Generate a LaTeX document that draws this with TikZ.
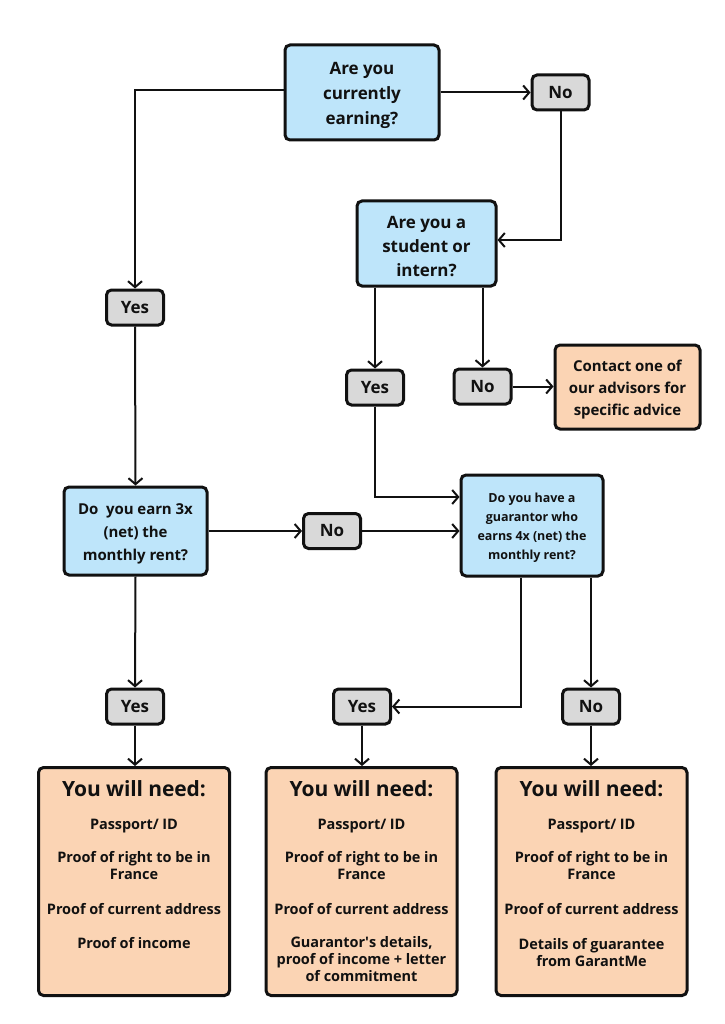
\documentclass[tikz,border=0pt]{standalone}
\usepackage{fontspec}
\setmainfont[LetterSpace=-0.5]{Open Sans}
\usetikzlibrary{arrows.meta}
\definecolor{qblue}{HTML}{BEE5FA}
\definecolor{ygray}{HTML}{D9D9D9}
\definecolor{peach}{HTML}{FBD4B4}
\definecolor{ink}{HTML}{111111}
\tikzset{
  base/.style={draw=ink, line width=3pt, rounded corners=5pt, align=center, inner sep=0pt, text=ink},
  qbox/.style={base, fill=qblue},
  ans/.style={base, fill=ygray, minimum width=57pt, minimum height=35pt, font=\bfseries\fontsize{17}{20}\selectfont},
  need/.style={base, fill=peach, minimum width=191pt, minimum height=228pt},
  conn/.style={draw=ink, line width=2pt, -{Straight Barb[length=6pt,width=14pt,line width=2pt]}},
  ttl/.style={anchor=base, text=ink, font=\bfseries\fontsize{21}{24}\selectfont},
  itm/.style={anchor=base, text=ink, align=center, font=\bfseries\fontsize{14.5}{17}\selectfont},
}
\begin{document}
\begin{tikzpicture}[x=1pt,y=-1pt]
\path[use as bounding box, fill=white] (0,0) rectangle (724,1024);

% question boxes
\node[qbox, minimum width=154pt, minimum height=95pt, font=\bfseries\fontsize{17}{25}\selectfont] (q1) at (362,92.5) {\rule{0pt}{18pt}Are you\\currently\\earning?};
\node[qbox, minimum width=139pt, minimum height=85pt, font=\bfseries\fontsize{17}{24}\selectfont] (q2) at (426.5,243.5) {\rule{0pt}{17.5pt}Are you a\\student or\\intern?};
\node[qbox, minimum width=143pt, minimum height=88pt, font=\bfseries\fontsize{15}{23}\selectfont] (q3) at (135.5,531) {\rule{0pt}{17pt}Do\ \ you earn 3x\\(net) the\\monthly rent?};
\node[qbox, minimum width=142pt, minimum height=101pt, font=\bfseries\fontsize{12.5}{19}\selectfont] (q4) at (532,525.5) {\rule{0pt}{14.5pt}Do you have a\\guarantor who\\earns 4x (net) the\\monthly rent?};

% answers
\node[ans] (no1) at (560.5,92.5) {No};
\node[ans] (yes1) at (135,307.5) {Yes};
\node[ans] (yes2) at (375,387.5) {Yes};
\node[ans] (no2) at (482.5,386.5) {No};
\node[ans] (no3) at (332,531) {No};
\node[ans] (yes4) at (135,706.5) {Yes};
\node[ans] (yes5) at (362,706.5) {Yes};
\node[ans] (no5) at (591,706.5) {No};

% contact
\node[base, fill=peach, minimum width=145pt, minimum height=84pt, font=\bfseries\fontsize{15}{22}\selectfont] (contact) at (627.5,387) {\rule{0pt}{17.5pt}Contact one of\\our advisors for\\specific advice};

% result boxes
\node[need] (r1) at (134,881.5) {};
\node[need] (r2) at (361.5,881.5) {};
\node[need] (r3) at (591.5,881.5) {};

\node[ttl] (r1t) at (134,796) {You will need:};
\node[itm] (r1a) at (134,829) {Passport/ ID};
\node[itm] (r1b) at (134,879) {Proof of right to be in\\France};
\node[itm] (r1c) at (134,914) {Proof of current address};
\node[itm] (r1d) at (134,948) {Proof of income};

\node[ttl] (r2t) at (361.5,796) {You will need:};
\node[itm] (r2a) at (361.5,829) {Passport/ ID};
\node[itm] (r2b) at (361.5,879) {Proof of right to be in\\France};
\node[itm] (r2c) at (361.5,914) {Proof of current address};
\node[itm] (r2d) at (361.5,981) {Guarantor\textquotesingle s details,\\proof of income + letter\\of commitment};

\node[ttl] (r3t) at (591.5,796) {You will need:};
\node[itm] (r3a) at (591.5,829) {Passport/ ID};
\node[itm] (r3b) at (591.5,879) {Proof of right to be in\\France};
\node[itm] (r3c) at (591.5,914) {Proof of current address};
\node[itm] (r3d) at (591.5,966) {Details of guarantee\\from GarantMe};

% connectors
\draw[conn] (q1.west |- 0,90) -| (yes1.north);
\draw[conn] (q1.east |- no1.west) -- (no1.west);
\draw[conn] (no1.south) |- (q2.east |- 0,240);
\draw[conn] (q2.south -| yes2.north) -- (yes2.north);
\draw[conn] (q2.south -| no2.north) -- (no2.north);
\draw[conn] (no2.east) -- (contact.west |- no2.east);
\draw[conn] (yes2.south) |- (q4.west |- 0,497);
\draw[conn] (yes1.south) -- (q3.north);
\draw[conn] (q3.east) -- (no3.west);
\draw[conn] (no3.east) -- (q4.west |- no3.east);
\draw[conn] (q3.south) -- (yes4.north);
\draw[conn] (yes4.south) -- (r1.north -| yes4.south);
\draw[conn] (q4.south -| 521,0) |- (yes5.east);
\draw[conn] (q4.south -| no5.north) -- (no5.north);
\draw[conn] (yes5.south) -- (r2.north -| yes5.south);
\draw[conn] (no5.south) -- (r3.north -| no5.south);
\end{tikzpicture}
\end{document}
